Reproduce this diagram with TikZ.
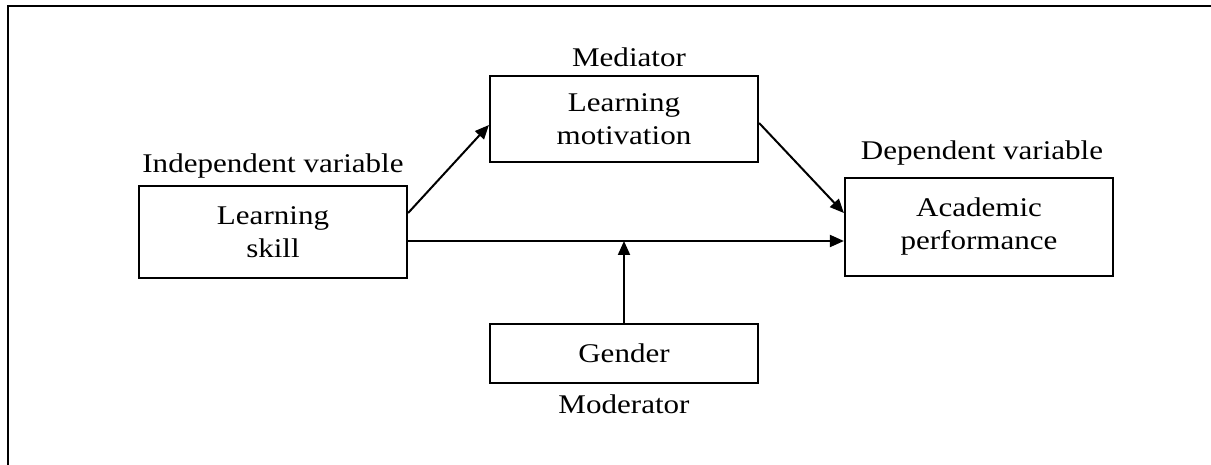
\documentclass[tikz,border=0pt]{standalone}
\usepackage{fontspec}
\setmainfont{Liberation Serif}[FakeStretch=1.15]
\usetikzlibrary{arrows.meta}
\begin{document}
\begin{tikzpicture}[x=1pt,y=-1pt,
  box/.style={draw=black, line width=2.2pt, minimum width=268pt, align=center, inner sep=0pt,
    font=\fontsize{27}{33}\selectfont},
  lbl/.style={anchor=base, inner sep=0pt, font=\fontsize{27}{33}\selectfont},
  conn/.style={line width=2pt, -{Triangle[length=14pt,width=12pt]}}]
\useasboundingbox (0,0) rectangle (1211,465);
\draw[line width=2.5pt] (8,465) -- (8,6) -- (1211,6);
% boxes
\node[box, minimum height=92pt] (skill) at (273,232) {Learning\\skill};
\node[box, minimum height=86pt] (motiv) at (624,119) {Learning\\motivation};
\node[box, minimum height=98pt] (acad) at (979,227) {Academic\\performance};
\node[box, minimum height=59pt] (gender) at (624,353.5) {Gender};
% labels
\node[lbl] (lindep) at (273,173) {Independent variable};
\node[lbl] (lmed) at (629,67) {Mediator};
\node[lbl] (ldep) at (982,160) {Dependent variable};
\node[lbl] (lmod) at (624,413) {Moderator};
% connectors
\draw[conn] ([yshift=19pt]skill.east) -- ([yshift=-6pt]motiv.west);
\draw[conn] ([yshift=-4pt]motiv.east) -- ([yshift=14pt]acad.west);
\coordinate (hstart) at ([yshift=-9pt]skill.east);
\draw[conn] (hstart) -- (acad.west |- hstart);
\coordinate (mid) at (gender.north |- hstart);
\draw[conn] (gender.north) -- (mid);
\end{tikzpicture}
\end{document}
